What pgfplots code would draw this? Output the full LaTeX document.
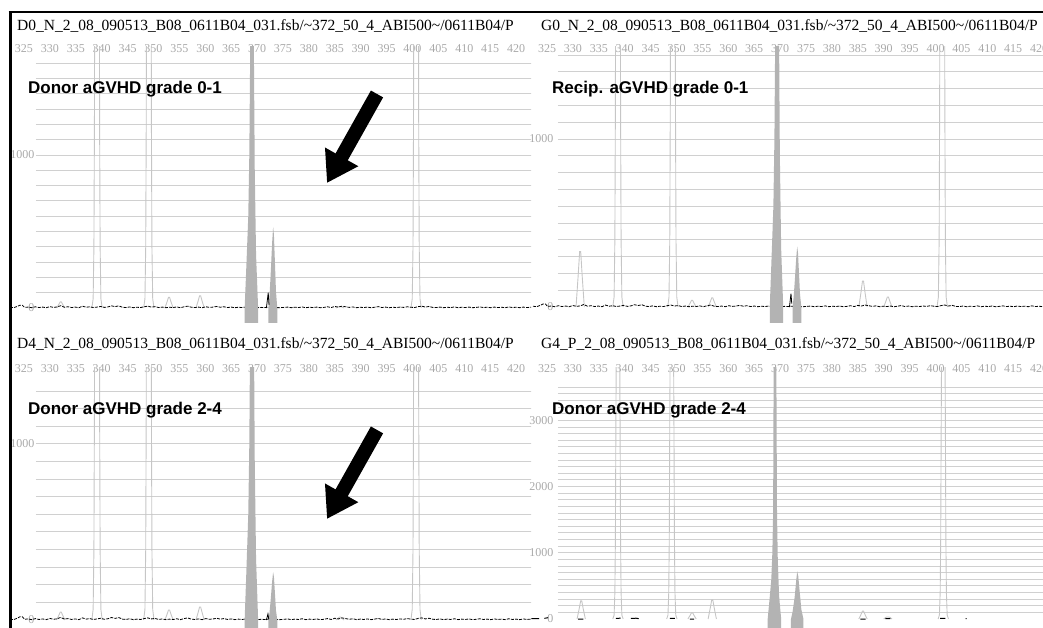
\documentclass[border=0pt]{standalone}
\usepackage{pgfplots}
\usepackage{pgfplotstable}
\pgfplotsset{compat=1.18}
\usepackage{fontspec}
\setmainfont{Liberation Serif}
\newfontfamily\arial{Liberation Sans}
\usetikzlibrary{arrows.meta}
\definecolor{gridc}{HTML}{D0D0D0}
\definecolor{peakc}{HTML}{C6C6C6}
\definecolor{fillc}{HTML}{B3B3B3}
\definecolor{tickc}{HTML}{A9A9A9}

\pgfplotstableread{
x y
322.3 5
323.0 2
323.7 10
324.2 18
324.7 18
325.1 4
325.8 6
326.5 2
327.2 8
327.9 3
328.6 6
329.3 2
330.0 9
330.7 4
331.4 7
332.1 15
332.8 5
333.5 8
334.2 3
334.9 6
335.6 2
336.3 12
337.0 5
337.7 8
338.4 3
339.1 6
339.8 10
340.5 4
341.2 7
341.9 14
342.6 9
343.3 14
344.0 5
344.7 3
345.4 7
346.1 2
346.8 5
347.5 3
348.2 8
348.9 12
349.6 6
350.3 9
351.0 3
351.7 6
352.4 2
353.1 5
353.8 3
354.5 7
355.2 2
355.9 8
356.6 12
357.3 5
358.0 3
358.7 6
359.4 2
360.1 8
360.8 4
361.5 6
362.2 10
362.9 5
363.6 8
364.3 3
365.0 6
365.7 2
366.4 5
367.1 3
367.8 6
368.5 2
369.2 3
370.0 2
370.8 4
371.5 3
372.2 5
372.9 2
373.6 3
374.4 2
375.2 4
375.9 6
376.6 2
377.3 5
378.0 3
378.7 7
379.4 2
380.1 5
380.8 3
381.5 6
382.2 2
382.9 4
383.6 8
384.3 3
385.0 10
385.7 6
386.4 12
387.1 8
387.8 4
388.5 7
389.2 2
389.9 5
390.6 3
391.3 6
392.0 2
392.7 5
393.4 9
394.1 3
394.8 6
395.5 2
396.2 5
396.9 3
397.6 6
398.3 4
399.0 8
399.7 5
400.4 3
401.1 9
401.8 12
402.5 6
403.2 10
403.9 4
404.6 3
405.3 6
406.0 2
406.7 5
407.4 3
408.1 7
408.8 2
409.5 5
410.2 3
410.9 6
411.6 2
412.3 4
413.0 7
413.7 3
414.4 5
415.1 2
415.8 6
416.5 3
417.2 5
417.9 2
418.6 7
419.3 3
420.0 5
420.7 2
421.4 6
422.1 3
422.8 5
423.5 2
424.2 4
425.0 3
}\noise

\pgfplotsset{
  ephe/.style={
    scale only axis, anchor=north west, clip=true,
    axis line style={draw=none}, tick style={draw=none},
    major tick length=0pt,
    xtick={325,330,...,420}, xticklabel pos=upper,
    xticklabel style={anchor=center, yshift=-2pt, text=tickc, font=\fontsize{12}{12}\selectfont},
    yticklabel style={text=tickc, font=\fontsize{12}{12}\selectfont},
    /pgf/number format/assume math mode=true,
    /pgf/number format/1000 sep={},
  },
  gp/.style={color=peakc, line width=0.9pt},
  fp/.style={fill=fillc, draw=none},
  bk/.style={black, line width=0.8pt, dash pattern=on 3pt off 1.2pt},
}
\tikzset{
  ttl/.style={anchor=base west, inner sep=0pt, font=\fontsize{15.5}{16}\selectfont},
  lbl/.style={anchor=base west, inner sep=0pt, font=\arial\bfseries\fontsize{17}{18}\selectfont},
  arr/.style={line width=14pt, -{Triangle[length=30pt,width=36pt]}},
}

\begin{document}
\begin{tikzpicture}
\useasboundingbox (0pt,0pt) rectangle (1043pt,-628pt);

% ---------------- top left ----------------
\begin{axis}[ephe, at={(10pt,-47pt)}, width=521pt, height=276pt,
  xmin=322.30, xmax=422.88, ymin=-98, ymax=1706,
  ytick={0,1000}, yticklabel style={xshift=28pt}]
\pgfplotsinvokeforeach{100,200,...,1600}{\draw[gridc, line width=1pt] (axis cs:327.3,#1) -- (axis cs:430,#1);}
\addplot[gp] coordinates {(338.1,0)(338.35,60)(338.5,400)(338.6,1200)(338.7,3000)(339.1,9000)(339.5,3000)(339.6,1200)(339.7,400)(339.85,60)(340.1,0)};
\addplot[gp] coordinates {(348.1,0)(348.35,60)(348.5,400)(348.6,1200)(348.7,3000)(349.1,9000)(349.5,3000)(349.6,1200)(349.7,400)(349.85,60)(350.1,0)};
\addplot[gp] coordinates {(399.7,0)(399.95,60)(400.1,400)(400.2,1200)(400.3,3000)(400.7,9000)(401.1,3000)(401.2,1200)(401.3,400)(401.45,60)(401.7,0)};
\addplot[gp] coordinates {(331.3,0)(331.7,22)(332.0,40)(332.2,40)(332.5,22)(332.9,0)};
\addplot[gp] coordinates {(352.2,0)(352.6,38)(352.9,70)(353.1,70)(353.4,38)(353.8,0)};
\addplot[gp] coordinates {(358.2,0)(358.6,44)(358.9,80)(359.1,80)(359.4,44)(359.8,0)};
\addplot[gp] coordinates {(385.2,0)(385.6,6)(385.9,10)(386.1,10)(386.4,6)(386.8,0)};
\addplot[bk] table[x=x,y=y] {\noise};
\addplot[fp] coordinates {(367.6,-300)(367.6,0)(367.9,250)(368.3,600)(368.5,1000)(368.65,1600)(368.85,6000)(369.15,6000)(369.4,1600)(369.55,900)(369.8,350)(370.2,0)(370.2,-300)};
\addplot[fp] coordinates {(372.2,-300)(372.2,0)(372.4,80)(372.65,239)(372.9,424)(373.1,530)(373.25,477)(373.45,292)(373.65,106)(373.9,0)(373.9,-300)};
\addplot[black, line width=0.8pt] coordinates {(371.8,0)(372.15,100)(372.3,20)};
\draw[arr] (axis cs:393.15,1399) -- (axis cs:383.49,817);
\end{axis}

% ---------------- top right ----------------
\begin{axis}[ephe, at={(531pt,-47pt)}, width=512pt, height=275pt,
  xmin=321.91, xmax=420.75, ymin=-89, ymax=1548,
  ytick={0,1000}, yticklabel style={xshift=25.8pt}]
\pgfplotsinvokeforeach{100,200,...,1500}{\draw[gridc, line width=1pt] (axis cs:327.1,#1) -- (axis cs:430,#1);}
\addplot[gp] coordinates {(337.7,0)(337.95,60)(338.1,400)(338.2,1200)(338.3,3000)(338.7,9000)(339.1,3000)(339.2,1200)(339.3,400)(339.45,60)(339.7,0)};
\addplot[gp] coordinates {(348.3,0)(348.55,60)(348.7,400)(348.8,1200)(348.9,3000)(349.3,9000)(349.7,3000)(349.8,1200)(349.9,400)(350.05,60)(350.3,0)};
\addplot[gp] coordinates {(400.3,0)(400.55,60)(400.7,400)(400.8,1200)(400.9,3000)(401.3,9000)(401.7,3000)(401.8,1200)(401.9,400)(402.05,60)(402.3,0)};
\addplot[gp] coordinates {(330.6,0)(331.0,181)(331.3,330)(331.5,330)(331.8,181)(332.2,0)};
\addplot[gp] coordinates {(352.2,0)(352.6,22)(352.9,40)(353.1,40)(353.4,22)(353.8,0)};
\addplot[gp] coordinates {(356.1,0)(356.5,30)(356.8,55)(357.0,55)(357.3,30)(357.7,0)};
\addplot[gp] coordinates {(385.2,0)(385.6,85)(385.9,155)(386.1,155)(386.4,85)(386.8,0)};
\addplot[gp] coordinates {(390.0,0)(390.4,33)(390.7,60)(390.9,60)(391.2,33)(391.6,0)};
\addplot[bk] table[x=x,y=y] {\noise};
\addplot[fp] coordinates {(368.0,-300)(368.0,0)(368.3,250)(368.7,600)(368.9,1000)(369.05,1600)(369.25,6000)(369.55,6000)(369.8,1600)(369.95,900)(370.2,350)(370.6,0)(370.6,-300)};
\addplot[fp] coordinates {(372.4,-300)(372.4,0)(372.6,54)(372.85,162)(373.1,288)(373.3,360)(373.45,324)(373.65,198)(373.85,72)(374.1,0)(374.1,-300)};
\addplot[black, line width=0.8pt] coordinates {(371.8,0)(372.1,80)(372.25,20)};
\end{axis}

% ---------------- bottom left ----------------
\begin{axis}[ephe, at={(10pt,-367pt)}, width=521pt, height=261pt,
  xmin=322.30, xmax=422.88, ymin=-45.5, ymax=1437.5,
  ytick={0,1000}, yticklabel style={xshift=28pt}]
\pgfplotsinvokeforeach{100,200,...,1300}{\draw[gridc, line width=1pt] (axis cs:327.3,#1) -- (axis cs:430,#1);}
\addplot[gp] coordinates {(338.1,0)(338.35,60)(338.5,400)(338.6,1200)(338.7,3000)(339.1,9000)(339.5,3000)(339.6,1200)(339.7,400)(339.85,60)(340.1,0)};
\addplot[gp] coordinates {(348.1,0)(348.35,60)(348.5,400)(348.6,1200)(348.7,3000)(349.1,9000)(349.5,3000)(349.6,1200)(349.7,400)(349.85,60)(350.1,0)};
\addplot[gp] coordinates {(399.7,0)(399.95,60)(400.1,400)(400.2,1200)(400.3,3000)(400.7,9000)(401.1,3000)(401.2,1200)(401.3,400)(401.45,60)(401.7,0)};
\addplot[gp] coordinates {(331.3,0)(331.7,25)(332.0,45)(332.2,45)(332.5,25)(332.9,0)};
\addplot[gp] coordinates {(352.2,0)(352.6,31)(352.9,57)(353.1,57)(353.4,31)(353.8,0)};
\addplot[gp] coordinates {(358.2,0)(358.6,41)(358.9,74)(359.1,74)(359.4,41)(359.8,0)};
\addplot[gp] coordinates {(385.2,0)(385.6,9)(385.9,17)(386.1,17)(386.4,9)(386.8,0)};
\addplot[bk] table[x=x,y=y] {\noise};
\addplot[fp] coordinates {(367.6,-300)(367.6,0)(367.9,250)(368.3,600)(368.5,1000)(368.65,1600)(368.85,6000)(369.15,6000)(369.4,1600)(369.55,900)(369.8,350)(370.2,0)(370.2,-300)};
\addplot[fp] coordinates {(372.2,-300)(372.2,0)(372.4,41)(372.65,122)(372.9,218)(373.1,272)(373.25,245)(373.45,150)(373.65,54)(373.9,0)(373.9,-300)};
\addplot[black, line width=0.8pt] coordinates {(371.8,0)(372.1,35)(372.25,5)};
\draw[arr] (axis cs:393.15,1080) -- (axis cs:383.49,574);
\end{axis}

% ---------------- bottom right ----------------
\begin{axis}[ephe, at={(531pt,-367pt)}, width=512pt, height=261pt,
  xmin=321.91, xmax=420.75, ymin=-136, ymax=3807,
  ytick={0,1000,2000,3000}, yticklabel style={xshift=25.8pt}]
\pgfplotsinvokeforeach{100,200,...,3500}{\draw[gridc, line width=1pt] (axis cs:327.1,#1) -- (axis cs:430,#1);}
\addplot[gp] coordinates {(337.7,0)(337.95,60)(338.1,400)(338.2,1200)(338.3,3000)(338.7,9000)(339.1,3000)(339.2,1200)(339.3,400)(339.45,60)(339.7,0)};
\addplot[gp] coordinates {(348.1,0)(348.35,60)(348.5,400)(348.6,1200)(348.7,3000)(349.1,9000)(349.5,3000)(349.6,1200)(349.7,400)(349.85,60)(350.1,0)};
\addplot[gp] coordinates {(400.5,0)(400.75,60)(400.9,400)(401.0,1200)(401.1,3000)(401.5,9000)(401.9,3000)(402.0,1200)(402.1,400)(402.25,60)(402.5,0)};
\addplot[gp] coordinates {(330.8,0)(331.2,151)(331.5,275)(331.7,275)(332.0,151)(332.4,0)};
\addplot[gp] coordinates {(352.2,0)(352.6,52)(352.9,95)(353.1,95)(353.4,52)(353.8,0)};
\addplot[gp] coordinates {(356.1,0)(356.5,160)(356.8,290)(357.0,290)(357.3,160)(357.7,0)};
\addplot[gp] coordinates {(385.2,0)(385.6,66)(385.9,120)(386.1,120)(386.4,66)(386.8,0)};
\addplot[gp] coordinates {(390.0,0)(390.4,25)(390.7,30)(390.9,30)(391.2,25)(391.6,0)};
\addplot[black, line width=1pt, unbounded coords=jump] coordinates {(322.0,5)(323.5,5)(324,nan)(324.5,10)(325.2,20)(325.6,nan)(331.0,0)(332.0,0)(332.3,nan)(338.3,10)(339.2,12)(339.5,nan)(341.2,8)(342.2,12)(342.7,5)(343.2,nan)(344.7,5)(345.0,nan)(348.7,10)(349.7,8)(350.0,nan)(352.6,0)(353.4,0)(353.7,nan)(360.5,5)(360.7,nan)(365.5,5)(365.7,nan)(367.8,10)(368.0,nan)(385.5,0)(386.5,0)(386.8,nan)(390.3,5)(391.3,5)(391.5,nan)(400.9,10)(401.9,8)(402.2,nan)(405.8,5)(406.0,5)};
\addplot[fp] coordinates {(367.6,-300)(367.6,0)(367.9,250)(368.3,600)(368.5,1000)(368.65,1600)(368.85,6000)(369.15,6000)(369.4,1600)(369.55,900)(369.8,350)(370.2,0)(370.2,-300)};
\addplot[fp] coordinates {(372.1,-300)(372.1,0)(372.4,108)(372.8,324)(373.1,576)(373.3,720)(373.5,648)(373.8,396)(374.1,144)(374.5,0)(374.5,-300)};
\end{axis}

% ---------------- titles, labels, frame ----------------
\node[ttl] at (17pt,-31pt) {D0\_N\_2\_08\_090513\_B08\_0611B04\_031.fsb/\textasciitilde 372\_50\_4\_ABI500\textasciitilde /0611B04/P};
\node[ttl] at (541pt,-31pt) {G0\_N\_2\_08\_090513\_B08\_0611B04\_031.fsb/\textasciitilde 372\_50\_4\_ABI500\textasciitilde /0611B04/P};
\node[ttl] at (17pt,-348pt) {D4\_N\_2\_08\_090513\_B08\_0611B04\_031.fsb/\textasciitilde 372\_50\_4\_ABI500\textasciitilde /0611B04/P};
\node[ttl] at (541pt,-348pt) {G4\_P\_2\_08\_090513\_B08\_0611B04\_031.fsb/\textasciitilde 372\_50\_4\_ABI500\textasciitilde /0611B04/P};
\node[lbl] at (28pt,-94pt) {Donor aGVHD grade 0-1};
\node[lbl] at (552pt,-94pt) {Recip. aGVHD grade 0-1};
\node[lbl] at (28pt,-414pt) {Donor aGVHD grade 2-4};
\node[lbl] at (552pt,-414pt) {Donor aGVHD grade 2-4};
\draw[line width=3pt] (10pt,-628pt) -- (10pt,-11pt);
\draw[line width=2pt] (8.5pt,-12pt) -- (1043pt,-12pt);
\end{tikzpicture}
\end{document}
